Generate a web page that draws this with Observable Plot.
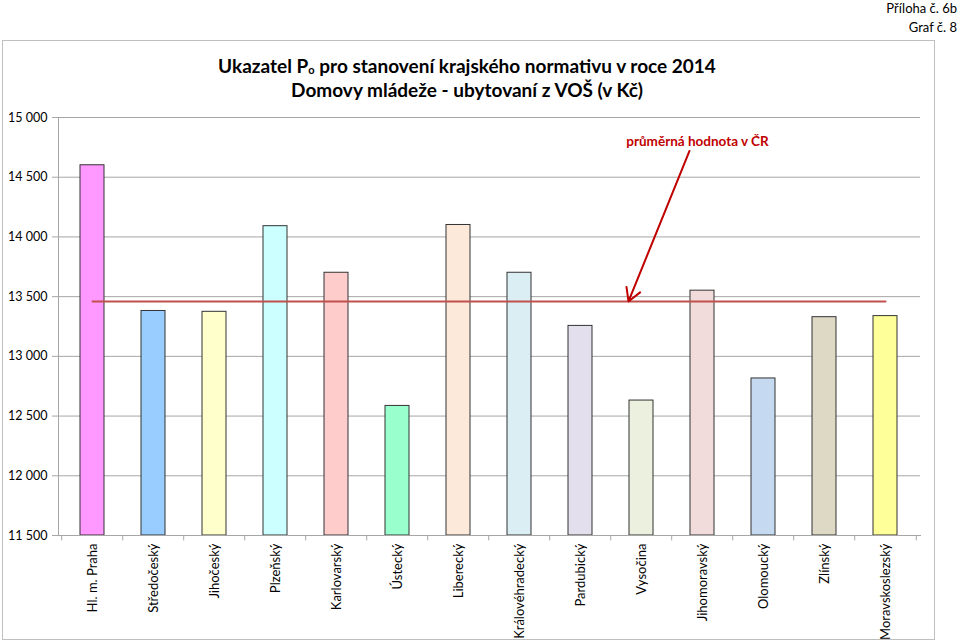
<!DOCTYPE html>
<html>
<head>
<meta charset="utf-8">
<script src="https://cdn.jsdelivr.net/npm/d3@7"></script>
<script src="https://cdn.jsdelivr.net/npm/@observablehq/plot@0.6"></script>
<style>
  html, body { margin: 0; padding: 0; background: #fff; }
  #chart svg { display: block; }
</style>
</head>
<body>
<div id="chart"></div>
<script>
const categories = ["Hl. m. Praha", "Středočeský", "Jihočeský", "Plzeňský", "Karlovarský", "Ústecký", "Liberecký",
  "Královéhradecký", "Pardubický", "Vysočina", "Jihomoravský", "Olomoucký", "Zlínský", "Moravskoslezský"];
const values = [14600, 13380, 13373, 14090, 13700, 12585, 14100, 13700, 13255, 12630, 13550, 12815, 13328, 13337];
const barColors = ["#FF99FF", "#99CCFF", "#FFFFCC", "#CCFFFF", "#FFCCCC", "#99FFCC", "#FDE9D9",
  "#DAEEF3", "#E4DFEC", "#EBF1DE", "#F2DCDB", "#C5D9F1", "#DDD9C4", "#FFFF99"];
const average = 13460;
const yMin = 11500, yMax = 15000;
const yTicks = [11500, 12000, 12500, 13000, 13500, 14000, 14500, 15000];
const titleLines = ["Ukazatel P", "o", " pro stanovení krajského normativu v roce 2014", "Domovy mládeže - ubytovaní z VOŠ (v Kč)"];
const cornerLines = ["Příloha č. 6b", "Graf č. 8"];
const annotationText = "průměrná hodnota v ČR";
const annotation = [{from: "Jihomoravský", to: "Vysočina", yFrom: 14720, yTo: average, label: annotationText, yLabel: 14800}];

const rows = categories.map((c, i) => ({region: c, value: values[i], color: barColors[i]}));
const fmt = d => d3.format(",")(d).replace(/,/g, " ");
const FONT = "Lato, 'Open Sans', sans-serif";
const grey = "#a6a6a6";

const chart = Plot.plot({
  width: 960,
  height: 642,
  marginLeft: 58,
  marginRight: 40,
  marginTop: 117,
  marginBottom: 107,
  style: {fontFamily: FONT, fontSize: "12px", color: "#000", background: "transparent"},
  x: {domain: categories, paddingInner: 0.6, paddingOuter: 0.3, label: null},
  y: {domain: [yMin, yMax], label: null},
  color: {type: "identity"},
  marks: [
    Plot.gridY(yTicks, {stroke: grey, strokeOpacity: 1}),
    Plot.axisY({ticks: yTicks, tickFormat: fmt, tickSize: 6, tickPadding: 5, stroke: grey, fontSize: 12.5, label: null}),
    Plot.axisX({tickRotate: -90, tickSize: 0, tickPadding: 8, fontSize: 13, label: null}),
    Plot.ruleX(categories, {x: d => d, y1: yMin, y2: yMin - 45, dx: -30.8, stroke: grey}),
    Plot.ruleX(categories.slice(-1), {x: d => d, y1: yMin, y2: yMin - 45, dx: 30.8, stroke: grey}),
    Plot.barY(rows, {x: "region", y1: yMin, y2: "value", fill: "color", stroke: "#333", strokeWidth: 1}),
    Plot.frame({anchor: "left", stroke: grey}),
    Plot.frame({anchor: "bottom", stroke: grey}),
    Plot.lineY(categories, {x: d => d, y: () => average, stroke: "#C0504D", strokeWidth: 2}),
    Plot.arrow(annotation, {x1: "from", y1: "yFrom", x2: "to", y2: "yTo", dx: -13, stroke: "#C00000", strokeWidth: 2, headLength: 11}),
    Plot.text(annotation, {x: "from", y: "yLabel", text: "label", dx: -5, fill: "#C00000", fontWeight: "bold", fontSize: 13.5})
  ]
});

const svg = d3.select(chart);
svg.insert("rect", ":first-child")
  .attr("x", 2.5).attr("y", 40.5).attr("width", 932).attr("height", 599)
  .attr("fill", "none").attr("stroke", "#bfbfbf");

const t1 = svg.append("text").attr("x", 467).attr("y", 73).attr("text-anchor", "middle")
  .attr("font-family", FONT).attr("font-size", 19).attr("font-weight", "bold").attr("fill", "#000");
t1.append("tspan").text(titleLines[0]);
t1.append("tspan").attr("font-size", 11).attr("dy", 1).text(titleLines[1]);
t1.append("tspan").attr("dy", -1).text(titleLines[2]);
svg.append("text").attr("x", 467).attr("y", 97).attr("text-anchor", "middle")
  .attr("font-family", FONT).attr("font-size", 19).attr("font-weight", "bold").attr("fill", "#000")
  .text(titleLines[3]);

cornerLines.forEach((s, i) => {
  svg.append("text").attr("x", 957).attr("y", 13 + i * 19).attr("text-anchor", "end")
    .attr("font-family", FONT).attr("font-size", 13).attr("fill", "#000").text(s);
});

document.getElementById("chart").appendChild(chart);
</script>
</body>
</html>
